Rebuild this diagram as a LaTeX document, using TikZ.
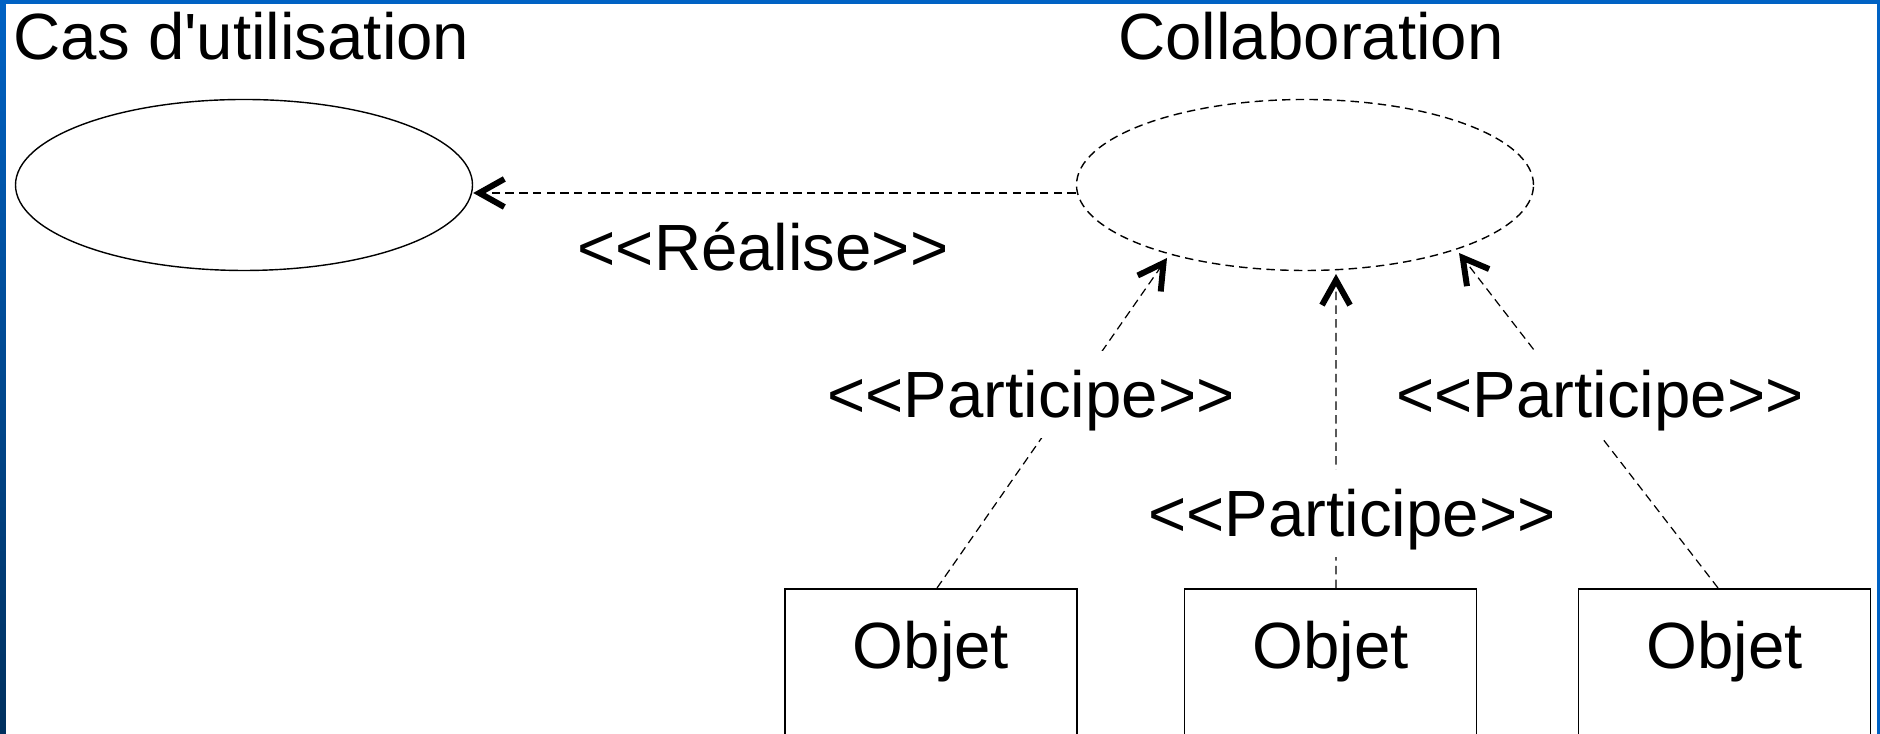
\documentclass[tikz,border=0pt]{standalone}
\usepackage{fontspec}
\setmainfont{Liberation Sans}[Ligatures=TeXOff]
\usepackage{tikz}
\usetikzlibrary{arrows.meta, shapes.geometric, calc}

\definecolor{frameBlue}{HTML}{0062C4}
\definecolor{frameDark}{HTML}{00305E}

\begin{document}
\begin{tikzpicture}[
    >={Straight Barb[length=0.25cm, width=0.28cm, line width=1.7pt]},
    font=\fontsize{18.6}{22}\selectfont,
    usecase/.style={ellipse, draw, line width=0.4pt, minimum width=4.57cm, minimum height=1.71cm, inner sep=0pt},
    collabshape/.style={usecase, dash pattern=on 2.4pt off 1.5pt},
    objbox/.style={rectangle, draw, line width=0.5pt, minimum width=2.92cm, anchor=north,
        text height=0.6cm, text depth=1.4cm, inner ysep=0.2cm},
    depends/.style={->, line width=0.35pt, dash pattern=on 2.4pt off 1.5pt},
    stereo/.style={fill=white, inner sep=0.05cm, text height=0.62cm, text depth=0.15cm, anchor=base}
]

    % === DEFINITIONS ===
    \def\picW{18.8}   % width of the slide area
    \def\picH{7.34}   % height of the slide area
    \def\boxTop{1.46} % top edge of the object boxes

    % === 0. SLIDE FRAME ===
    \clip (0,0) rectangle (\picW,\picH);
    \fill[frameBlue] (0,0) rectangle (\picW,\picH);
    \shade[top color=frameBlue, bottom color=frameDark] (0,0) rectangle (0.06,\picH);
    \fill[white] (0.06,0) rectangle (\picW-0.03,\picH-0.04);

    % === 1. USE CASE & COLLABORATION ===
    \node[usecase] (useCase) at (2.44, 5.49) {};
    \node[collabshape] (collab) at (13.05, 5.49) {};

    % Titles
    \node[anchor=base west, inner sep=0pt] (useCaseTitle) at (0.13, 6.74) {Cas d'utilisation};
    \node[anchor=base, inner sep=0pt] (collabTitle) at (13.11, 6.74) {Collaboration};

    % === 2. OBJECTS ===
    \node[objbox] (objA) at (9.31, \boxTop) {Objet};
    \node[objbox] (objB) at (13.305, \boxTop) {Objet};
    \node[objbox] (objC) at (17.245, \boxTop) {Objet};

    % === 3. DEPENDENCIES ===
    % arrow ends just under the collaboration
    \coordinate (tipA) at (11.67, 4.76);
    \coordinate (tipB) at (13.36, 4.60);
    \coordinate (tipC) at (14.59, 4.81);

    \draw[depends] ([yshift=-0.08cm]collab.west) -- ([yshift=-0.08cm]useCase.east);
    \draw[depends] ([xshift=0.06cm]objA.north) -- (tipA);
    \draw[depends] ([xshift=0.055cm]objB.north) -- (tipB);
    \draw[depends] ([xshift=-0.065cm]objC.north) -- (tipC);

    % === 4. STEREOTYPES ===
    \node[stereo] (realise) at (7.63, 4.63) {<<Réalise>>};
    \node[stereo] (partA) at (10.31, 3.16) {<<Participe>>};
    \node[stereo] (partC) at (16.00, 3.16) {<<Participe>>};
    \node[stereo] (partB) at (13.52, 1.97) {<<Participe>>};

\end{tikzpicture}
\end{document}
